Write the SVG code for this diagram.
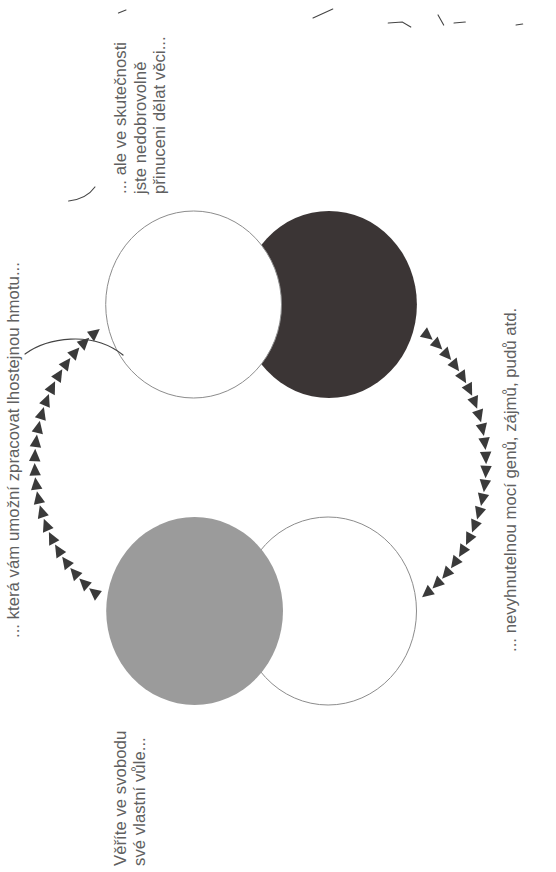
<svg xmlns="http://www.w3.org/2000/svg" xmlns:xlink="http://www.w3.org/1999/xlink" width="556" height="872" viewBox="0 0 556 872">
<style>
.lbl{font-family:"Liberation Sans",Arial,sans-serif;font-size:16.8px;fill:#606060}
.outline{fill:#ffffff;stroke:#8c8c8c;stroke-width:1}
.tri{fill:#3a3a3a}
.mark{fill:none;stroke:#444;stroke-width:1.2;stroke-linecap:round}
</style>
<defs>
<polygon id="tri" class="tri" points="164,7.2 157.9,-5.3 170.1,-5.3"/>
</defs>
<rect width="556" height="872" fill="#ffffff"/>

<g id="marks" transform="scale(0.94,1)">
<path class="mark" d="M126,13 L134,10"/>
<path class="mark" d="M73,201 Q92,199 101,187"/>
<path class="mark" d="M333,18 L354,9"/>
<path class="mark" d="M413,23 L428,22 L437,27"/>
<path class="mark" d="M466,15 L472,25"/>
<path class="mark" d="M483,23 L495,22"/>
<path class="mark" d="M549,25 L556,24"/>
</g>

<g id="node-upper">
<ellipse id="dark" cx="329" cy="304.5" rx="87.9" ry="93.5" fill="#3b3535"/>
<ellipse id="white-upper" class="outline" cx="193.6" cy="304.5" rx="87.9" ry="93.5"/>
</g>

<g id="node-lower">
<ellipse id="white-lower" class="outline" cx="328.1" cy="611" rx="88.4" ry="94"/>
<ellipse id="gray" cx="194.6" cy="611" rx="88.4" ry="94" fill="#9b9b9b"/>
</g>

<g id="connectors">
<g id="arc-left" transform="scale(0.94,1) translate(201,463)">
<use xlink:href="#tri" transform="rotate(127.8)"/>
<use xlink:href="#tri" transform="rotate(132.77)"/>
<use xlink:href="#tri" transform="rotate(137.74)"/>
<use xlink:href="#tri" transform="rotate(142.71)"/>
<use xlink:href="#tri" transform="rotate(147.68)"/>
<use xlink:href="#tri" transform="rotate(152.66)"/>
<use xlink:href="#tri" transform="rotate(157.63)"/>
<use xlink:href="#tri" transform="rotate(162.60)"/>
<use xlink:href="#tri" transform="rotate(167.57)"/>
<use xlink:href="#tri" transform="rotate(172.54)"/>
<use xlink:href="#tri" transform="rotate(177.51)"/>
<use xlink:href="#tri" transform="rotate(182.49)"/>
<use xlink:href="#tri" transform="rotate(187.46)"/>
<use xlink:href="#tri" transform="rotate(192.43)"/>
<use xlink:href="#tri" transform="rotate(197.40)"/>
<use xlink:href="#tri" transform="rotate(202.37)"/>
<use xlink:href="#tri" transform="rotate(207.34)"/>
<use xlink:href="#tri" transform="rotate(212.32)"/>
<use xlink:href="#tri" transform="rotate(217.29)"/>
<use xlink:href="#tri" transform="rotate(222.26)"/>
<use xlink:href="#tri" transform="rotate(227.23)"/>
<use xlink:href="#tri" transform="rotate(232.2)"/>
</g>
<g id="arc-right" transform="scale(0.94,1) translate(353,464)">
<use xlink:href="#tri" transform="rotate(-51.7)"/>
<use xlink:href="#tri" transform="rotate(-46.78)"/>
<use xlink:href="#tri" transform="rotate(-41.85)"/>
<use xlink:href="#tri" transform="rotate(-36.93)"/>
<use xlink:href="#tri" transform="rotate(-32.00)"/>
<use xlink:href="#tri" transform="rotate(-27.08)"/>
<use xlink:href="#tri" transform="rotate(-22.15)"/>
<use xlink:href="#tri" transform="rotate(-17.23)"/>
<use xlink:href="#tri" transform="rotate(-12.31)"/>
<use xlink:href="#tri" transform="rotate(-7.38)"/>
<use xlink:href="#tri" transform="rotate(-2.46)"/>
<use xlink:href="#tri" transform="rotate(2.46)"/>
<use xlink:href="#tri" transform="rotate(7.38)"/>
<use xlink:href="#tri" transform="rotate(12.31)"/>
<use xlink:href="#tri" transform="rotate(17.23)"/>
<use xlink:href="#tri" transform="rotate(22.15)"/>
<use xlink:href="#tri" transform="rotate(27.08)"/>
<use xlink:href="#tri" transform="rotate(32.00)"/>
<use xlink:href="#tri" transform="rotate(36.93)"/>
<use xlink:href="#tri" transform="rotate(41.85)"/>
<use xlink:href="#tri" transform="rotate(46.78)"/>
<use xlink:href="#tri" transform="rotate(51.7)"/>
</g>
<path id="stroke-curve" class="mark" d="M25,354 C47,338 92,330 123,355"/>
</g>

<g id="label-left">
<text class="lbl" transform="translate(18.5,638) rotate(-90)">... která vám umožní zpracovat lhostejnou hmotu...</text>
</g>
<g id="label-top">
<text class="lbl" transform="translate(125.5,194) rotate(-90)">... ale ve skutečnosti</text>
<text class="lbl" transform="translate(145.5,194) rotate(-90)">jste nedobrovolně</text>
<text class="lbl" transform="translate(165,194) rotate(-90)">přinuceni dělat věci...</text>
</g>
<g id="label-bottom">
<text class="lbl" transform="translate(126,866) rotate(-90)">Věříte ve svobodu</text>
<text class="lbl" transform="translate(145,866) rotate(-90)">své vlastní vůle...</text>
</g>
<g id="label-right">
<text class="lbl" transform="translate(516,652) rotate(-90)">... nevyhnutelnou mocí genů, zájmů, pudů atd.</text>
</g>
</svg>
